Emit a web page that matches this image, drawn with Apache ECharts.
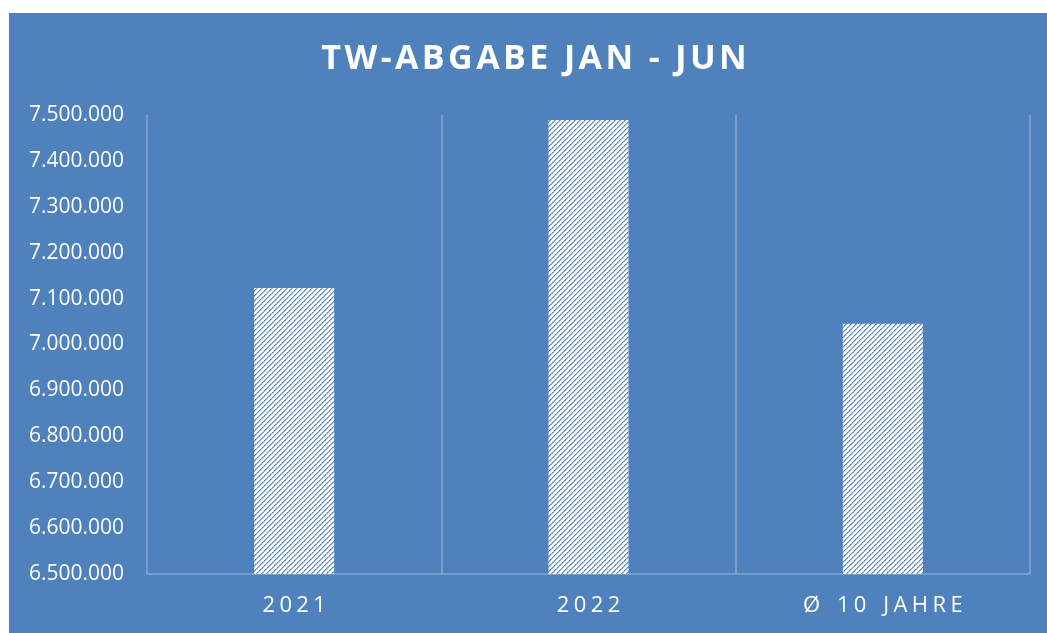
<!DOCTYPE html>
<html>
<head>
<meta charset="utf-8">
<script src="https://cdn.jsdelivr.net/npm/echarts@6/dist/echarts.min.js"></script>
<style>
html,body{margin:0;padding:0;background:#ffffff;}
#c{width:1047px;height:633px;}
</style>
</head>
<body>
<div id="c"></div>
<script>
const titleText = 'TW-ABGABE JAN - JUN';
const categories = ['2021', '2022', 'Ø 10 JAHRE'];
const values = [7123000, 7489000, 7045000];
const yMin = 6500000, yMax = 7500000, yInterval = 100000;

function spaced(s, sep, wordSep) {
  return Array.from(s).map(ch => ch === ' ' ? (wordSep || ' ') : ch).join(sep);
}

const BG = '#4f81bd';
const GRID = 'rgba(255,255,255,0.3)';

// hatch pattern (white with blue diagonal dotted stripes)
const pat = document.createElement('canvas');
pat.width = 5; pat.height = 5;
const pc = pat.getContext('2d');
pc.fillStyle = '#ffffff';
pc.fillRect(0, 0, 5, 5);
for (let i = 0; i < 5; i++) {
  pc.fillStyle = (i % 2 === 0) ? '#4f81bd' : '#7fa3d0';
  pc.fillRect(i, 4 - i, 1, 1);
  pc.fillStyle = 'rgba(79,129,189,0.55)';
  pc.fillRect((i + 1) % 5, 4 - i, 1, 1);
}

const chart = echarts.init(document.getElementById('c'), null, {renderer: 'canvas'});
chart.setOption({
  backgroundColor: 'transparent',
  animation: false,
  graphic: [
    {type: 'rect', left: 9, top: 13, z: -10, silent: true,
     shape: {width: 1038, height: 620}, style: {fill: BG}},
    {type: 'text', x: 534, y: 59, z: 10,
     style: {text: spaced(titleText, '\u200A', ' '), fill: '#ffffff', font: 'bold 34px "Open Sans"',
             textAlign: 'center', textVerticalAlign: 'middle'}}
  ],
  grid: {left: 147, right: 17, top: 115, bottom: 59, containLabel: false},
  xAxis: {
    type: 'category',
    data: categories,
    boundaryGap: true,
    axisLine: {show: true, lineStyle: {color: GRID, width: 1.5}},
    axisTick: {show: false},
    splitLine: {show: true, lineStyle: {color: GRID, width: 1.5}},
    axisLabel: {
      color: '#ffffff', fontFamily: 'Open Sans', fontSize: 22, margin: 21,
      formatter: v => spaced(v, '\u200A\u200A', ' \u200A')
    }
  },
  yAxis: {
    type: 'value',
    min: yMin, max: yMax, interval: yInterval,
    axisLine: {show: false},
    axisTick: {show: false},
    splitLine: {show: false},
    axisLabel: {
      color: '#ffffff', fontFamily: 'Open Sans', fontSize: 21, margin: 23,
      formatter: v => String(v).replace(/\B(?=(\d{3})+(?!\d))/g, '.')
    }
  },
  series: [{
    type: 'bar',
    data: values,
    barWidth: 80,
    itemStyle: {color: {image: pat, repeat: 'repeat'}}
  }]
});
</script>
</body>
</html>
